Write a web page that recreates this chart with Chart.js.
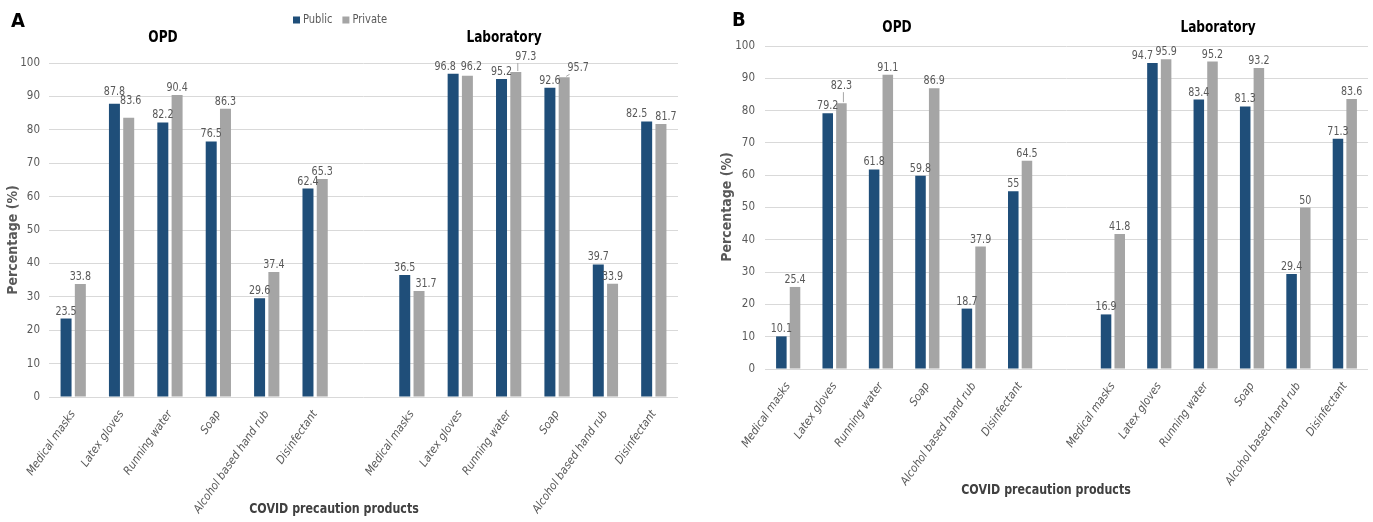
<!DOCTYPE html>
<html>
<head>
<meta charset="utf-8">
<script src="https://cdn.jsdelivr.net/npm/chart.js@4.4.1/dist/chart.umd.min.js"></script>
<style>
html, body { margin: 0; padding: 0; background: #fff; }
#wrap { position: relative; width: 1373px; height: 522px; }
.box { position: absolute; top: 0; height: 522px; }
#boxA { left: 0; width: 690px; }
#boxB { left: 690px; width: 683px; }
</style>
</head>
<body>
<div id="wrap">
  <div class="box" id="boxA"><canvas id="chartA"></canvas></div>
  <div class="box" id="boxB"><canvas id="chartB"></canvas></div>
</div>
<script>
var products = ["Medical masks", "Latex gloves", "Running water", "Soap", "Alcohol based hand rub", "Disinfectant"];
var yTicks = [0, 10, 20, 30, 40, 50, 60, 70, 80, 90, 100];

// panel A
var publicOpdA  = [23.5, 87.8, 82.2, 76.5, 29.6, 62.4];
var privateOpdA = [33.8, 83.6, 90.4, 86.3, 37.4, 65.3];
var publicLabA  = [36.5, 96.8, 95.2, 92.6, 39.7, 82.5];
var privateLabA = [31.7, 96.2, 97.3, 95.7, 33.9, 81.7];

// panel B
var publicOpdB  = [10.1, 79.2, 61.8, 59.8, 18.7, 55];
var privateOpdB = [25.4, 82.3, 91.1, 86.9, 37.9, 64.5];
var publicLabB  = [16.9, 94.7, 83.4, 81.3, 29.4, 71.3];
var privateLabB = [41.8, 95.9, 95.2, 93.2, 50, 83.6];

var BLUE = '#1F4E79', GREY = '#A5A5A5', TXT = '#595959';
var COND = "'DejaVu Sans Condensed', 'DejaVu Sans', sans-serif";
var NARROW = 0.85; // squeeze factor, the original uses a narrow face

var labels = products.concat([""], products);
function join(opd, lab) { return opd.concat([null], lab); }

function squeezed(ctx, text, x, y, sx) {
  ctx.save();
  ctx.translate(x, y);
  ctx.scale(sx, 1);
  ctx.fillText(text, 0, 0);
  ctx.restore();
}

// value labels, headings, legend
var decor = {
  id: 'decor',
  afterDatasetsDraw: function (chart, args, o) {
    var ctx = chart.ctx;
    ctx.save();
    ctx.font = '12.5px ' + COND;
    ctx.textAlign = 'center';
    ctx.textBaseline = 'alphabetic';
    chart.data.datasets.forEach(function (ds, di) {
      chart.getDatasetMeta(di).data.forEach(function (bar, i) {
        var v = ds.data[i];
        if (v == null) return;
        var n = (o.nudge || {})[di + ':' + i] || [0, 0, false];
        var x = bar.x + n[0], y = bar.y - 4 + n[1];
        if (n[2]) {
          var tw = ctx.measureText(String(v)).width * NARROW;
          var lx = Math.min(Math.max(bar.x + 2, x - tw / 2 + 2), x + tw / 2);
          ctx.strokeStyle = '#A6A6A6';
          ctx.lineWidth = 1;
          ctx.beginPath();
          ctx.moveTo(bar.x + 2, bar.y - 1);
          ctx.lineTo(lx, y + 3);
          ctx.stroke();
        }
        ctx.fillStyle = TXT;
        squeezed(ctx, String(v), x, y, NARROW);
      });
    });

    (o.texts || []).forEach(function (t) {
      ctx.save();
      ctx.font = t.font;
      ctx.fillStyle = t.color;
      ctx.textAlign = t.align || 'center';
      ctx.textBaseline = 'middle';
      ctx.translate(t.x, t.y);
      if (t.rot) ctx.rotate(t.rot);
      ctx.scale(t.sx || 1, 1);
      ctx.fillText(t.text, 0, 0);
      ctx.restore();
    });

    if (o.legend) {
      var lg = o.legend, x = lg.x;
      ctx.font = '13px ' + COND;
      ctx.textAlign = 'left';
      ctx.textBaseline = 'middle';
      chart.data.datasets.forEach(function (ds) {
        ctx.fillStyle = ds.backgroundColor;
        ctx.fillRect(x, lg.y - 3.5, 7, 7);
        ctx.fillStyle = TXT;
        squeezed(ctx, ds.label, x + 10, lg.y, NARROW);
        x += 10 + ctx.measureText(ds.label).width * NARROW + 10;
      });
    }
    ctx.restore();
  }
};

function makeChart(id, pub, priv, p) {
  return new Chart(document.getElementById(id), {
    type: 'bar',
    data: {
      labels: labels,
      datasets: [
        { label: 'Public', data: pub, backgroundColor: BLUE, categoryPercentage: 0.59, barPercentage: 0.77 },
        { label: 'Private', data: priv, backgroundColor: GREY, categoryPercentage: 0.59, barPercentage: 0.77 }
      ]
    },
    options: {
      responsive: true,
      maintainAspectRatio: false,
      animation: false,
      layout: { padding: { top: p.top, right: p.right, bottom: 0, left: 0 } },
      plugins: {
        legend: { display: false },
        tooltip: { enabled: false },
        decor: { texts: p.texts, legend: p.legend, nudge: p.nudge }
      },
      scales: {
        x: {
          grid: { display: false },
          border: { display: false },
          ticks: {
            autoSkip: false, minRotation: 55, maxRotation: 55, padding: 3,
            color: TXT, font: { family: COND, size: 11.5, style: 'italic' }
          },
          afterFit: function (s) { s.height = p.xh; }
        },
        y: {
          min: 0, max: 100,
          afterBuildTicks: function (s) { s.ticks = yTicks.map(function (v) { return { value: v }; }); },
          grid: { color: '#D9D9D9', lineWidth: 1, drawTicks: false },
          border: { display: false },
          ticks: { padding: p.tp, color: TXT, font: { family: COND, size: 11.5 } },
          afterFit: function (s) { s.width = p.yw; }
        }
      }
    },
    plugins: [decor]
  });
}

makeChart('chartA', join(publicOpdA, publicLabA), join(privateOpdA, privateLabA), {
  top: 63, right: 12, xh: 125, yw: 49, tp: 9,
  legend: { x: 293, y: 20 },
  nudge: {
    '0:1': [0, -5], '1:1': [2, -10],
    '1:7': [7, 0], '0:8': [-8, 0], '1:8': [4, -2],
    '1:9': [10, -8, true], '1:10': [14, -2, true],
    '0:12': [-10, 0], '1:12': [5, 0]
  },
  texts: [
    { text: 'A', x: 11, y: 22, align: 'left', font: 'bold 20px ' + COND, color: '#000' },
    { text: 'OPD', x: 163, y: 38, font: 'bold 15px ' + COND, color: '#000', sx: 0.9 },
    { text: 'Laboratory', x: 504, y: 38, font: 'bold 15px ' + COND, color: '#000', sx: 0.9 },
    { text: 'COVID precaution products', x: 334, y: 509, font: 'bold 14.5px ' + COND, color: '#404040', sx: NARROW },
    { text: 'Percentage (%)', x: 13, y: 240, rot: -Math.PI / 2, font: 'bold 14px ' + COND, color: TXT }
  ]
});

makeChart('chartB', join(publicOpdB, publicLabB), join(privateOpdB, privateLabB), {
  top: 46, right: 5, xh: 153, yw: 75, tp: 10,
  nudge: { '1:1': [0, -10, true], '0:8': [-10, 0] },
  texts: [
    { text: 'B', x: 42, y: 21, align: 'left', font: 'bold 20px ' + COND, color: '#000' },
    { text: 'OPD', x: 207, y: 28, font: 'bold 15px ' + COND, color: '#000', sx: 0.9 },
    { text: 'Laboratory', x: 528, y: 28, font: 'bold 15px ' + COND, color: '#000', sx: 0.9 },
    { text: 'COVID precaution products', x: 356, y: 490, font: 'bold 14.5px ' + COND, color: '#404040', sx: NARROW },
    { text: 'Percentage (%)', x: 37, y: 207, rot: -Math.PI / 2, font: 'bold 14px ' + COND, color: TXT }
  ]
});
</script>
</body>
</html>
